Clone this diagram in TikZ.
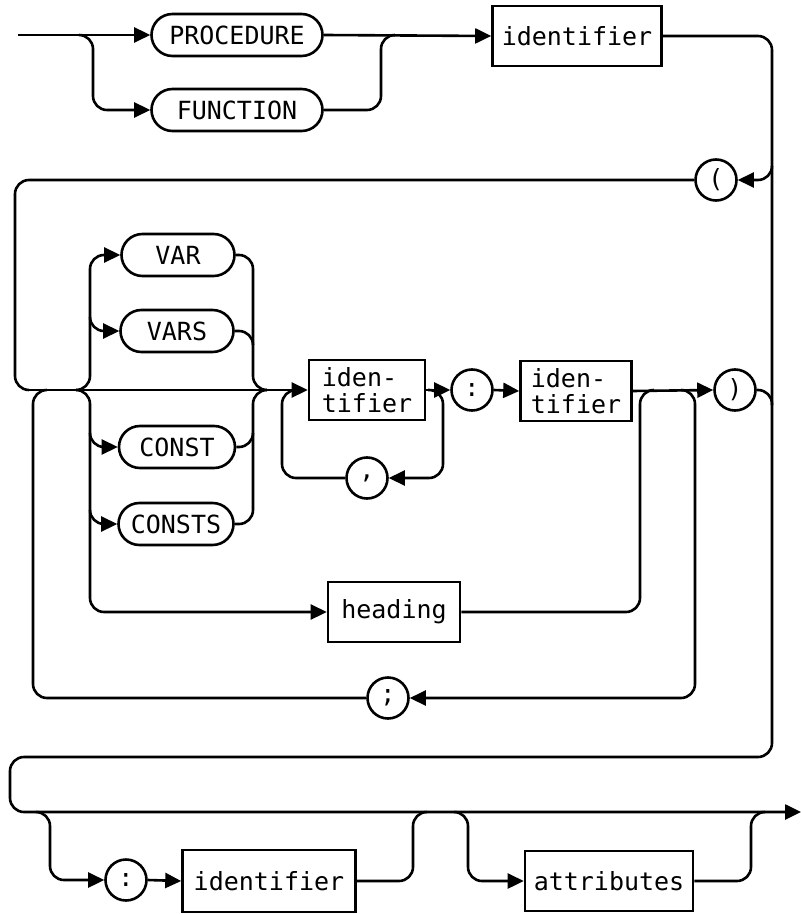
\documentclass[tikz,border=0pt]{standalone}
\usepackage{fontspec}
\usetikzlibrary{arrows.meta}
\newfontfamily\diafont{DejaVu Sans Mono}

\begin{document}
\begin{tikzpicture}[x=0.5pt, y=-0.5pt,
    every node/.style={font=\diafont\fontsize{12.5}{13}\selectfont, line width=1.3pt},
    keyword/.style={rectangle, draw, rounded corners=10.5pt, minimum height=21pt},
    nonterm/.style={rectangle, draw, minimum height=30pt},
    symbol/.style={circle, draw, minimum size=20.5pt, inner sep=0pt},
    line/.style={line width=1.3pt, rounded corners=7pt},
    arr/.style={line, -{Triangle[length=8pt, width=7.5pt]}}]

  \useasboundingbox (0,0) rectangle (801,914);

  % PROCEDURE or FUNCTION, then the name
  \coordinate (in) at (18,35);
  \coordinate (s1) at (79,35);
  \coordinate (j1) at (395,35);
  \node[keyword, minimum width=85.5pt] (proc) at (237,35) {PROCEDURE};
  \node[keyword, minimum width=85.5pt] (fn) at (237,110) {FUNCTION};
  \node[nonterm, minimum width=84.5pt] (id1) at (577,36) {identifier};
  \draw[arr] (in) -- (proc.west);
  \draw[arr] (s1) -| (93,110) -- (fn.west);
  \draw[line] (fn.east) -| (381,35) -- (j1);
  \draw[arr] (proc.east) -- (id1.west);

  % parameter list
  \coordinate (out) at (801,812);
  \coordinate (j2) at (772,166);
  \coordinate (j3) at (29,390);
  \coordinate (j4) at (47,390);
  \coordinate (j5) at (76,390);
  \node[symbol] (lpar) at (716,180) {(};
  \node[keyword, minimum width=56.5pt] (var) at (178,255) {VAR};
  \node[keyword, minimum width=56.5pt] (vars) at (177,331) {VARS};
  \node[keyword, minimum width=58pt] (const) at (177,447) {CONST};
  \node[keyword, minimum width=57.5pt] (consts) at (176,524) {CONSTS};
  \node[nonterm, minimum width=58pt, align=left] (b1) at (367,390) {iden-\\tifier};
  \node[symbol] (colon) at (472,390) {:};
  \node[nonterm, minimum width=55.5pt, align=left] (b2) at (576,391) {iden-\\tifier};
  \node[symbol] (rpar) at (735,390) {)};
  \node[symbol] (comma) at (367,478) {,};
  \node[nonterm, minimum width=66pt] (head) at (394,612) {heading};
  \node[symbol] (semi) at (388,698) {;};

  \draw[arr] (id1.east) -| (772,757) -| (10,812) -- (out);
  \draw[arr] (j2) |- (lpar.east);
  \draw[line] (lpar.west) -| (15,390) -- (j3);
  \draw[arr] (j3) -- (b1.west);
  \draw[line] (semi.west) -| (33,390) -- (j4);

  % VAR / VARS above, CONST / CONSTS and heading below
  \coordinate (j6) at (90,317);
  \coordinate (j7) at (90,433);
  \coordinate (j8) at (90,510);
  \coordinate (j9) at (267,390);
  \coordinate (j10) at (253,345);
  \coordinate (j11) at (253,433);
  \draw[arr] (j5) -| (90,255) -- (var.west);
  \draw[arr] (j6) |- (vars.west);
  \draw[arr] (j5) -| (90,612) -- (head.west);
  \draw[arr] (j7) |- (const.west);
  \draw[arr] (j8) |- (consts.west);
  \draw[line] (var.east) -| (253,390) -- (j9);
  \draw[line] (vars.east) -| (j10);
  \draw[line] (consts.east) -| (253,390) -- (j9);
  \draw[line] (const.east) -| (j11);

  % identifier list and type
  \coordinate (j12) at (428,390);
  \coordinate (j13) at (296,390);
  \coordinate (j14) at (772,405);
  \coordinate (j15) at (654,390);
  \coordinate (j16) at (681,390);
  \draw[arr] (b1.east) -- (colon.west);
  \draw[arr] (colon.east) -- (b2.west);
  \draw[arr] (b2.east) -- (rpar.west);
  \draw[arr] (j12) -| (443,478) -- (comma.east);
  \draw[line] (comma.west) -| (282,390) -- (j13);
  \draw[line] (rpar.east) -| (j14);
  \draw[line] (head.east) -| (640,390) -- (j15);
  \draw[arr] (j16) -| (695,698) -- (semi.east);

  % result type and attributes
  \coordinate (j17) at (36,812);
  \coordinate (j18) at (427,812);
  \coordinate (j19) at (454,812);
  \coordinate (j20) at (765,812);
  \node[symbol] (colon2) at (126,880) {:};
  \node[nonterm, minimum width=86.5pt, minimum height=31pt] (id3) at (269,881) {identifier};
  \node[nonterm, minimum width=84pt] (attr) at (609,881) {attributes};
  \draw[arr] (j17) -| (50,880) -- (colon2.west);
  \draw[arr] (colon2.east) -- (id3.west);
  \draw[line] (id3.east) -| (413,812) -- (j18);
  \draw[arr] (j19) -| (468,881) -- (attr.west);
  \draw[line] (attr.east) -| (751,812) -- (j20);
\end{tikzpicture}
\end{document}
